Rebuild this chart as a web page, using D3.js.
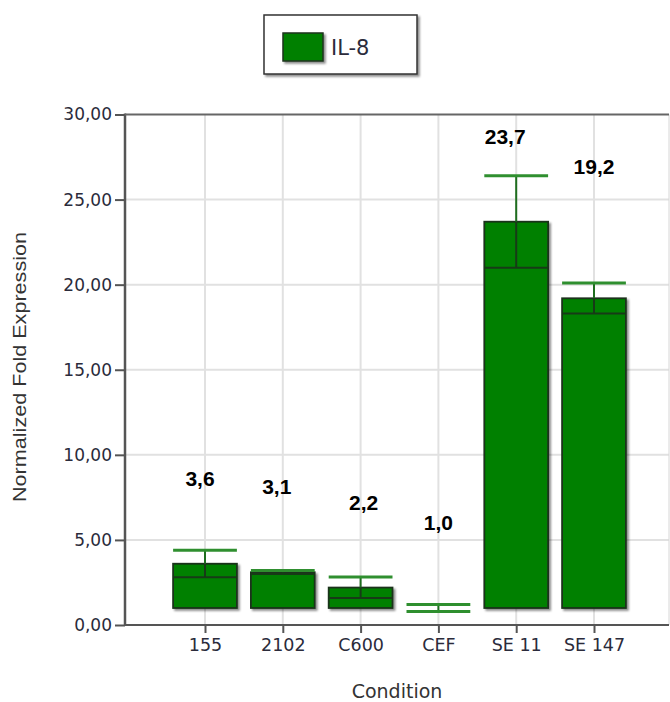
<!DOCTYPE html>
<html>
<head>
<meta charset="utf-8">
<script src="https://cdn.jsdelivr.net/npm/d3@7/dist/d3.min.js"></script>
<style>
  html, body { margin: 0; padding: 0; background: #fff; }
  svg { display: block; }
</style>
</head>
<body>
<svg id="chart" width="670" height="702"></svg>
<script>
// IL-8 normalized fold expression per condition
const categories = ["155", "2102", "C600", "CEF", "SE 11", "SE 147"];
const foldExpression = [3.6, 3.1, 2.2, 1.0, 23.7, 19.2];
const errorRange = [0.8, 0.1, 0.62, 0.2, 2.7, 0.9];
const yTicks = [0, 5, 10, 15, 20, 25, 30];
const seriesName = "IL-8";
const baseline = 1.0; // fold expression is drawn relative to 1

const plot = { left: 125, right: 669, top: 114.5, bottom: 625 };

const locale = d3.formatLocale({ decimal: ",", thousands: ".", grouping: [3], currency: ["", ""] });
const tickFmt = locale.format(".2f");
const valFmt = locale.format(".1f");

const svg = d3.select("#chart");

const defs = svg.append("defs");
const shadow = defs.append("filter").attr("id", "shadow")
  .attr("x", "-10%").attr("y", "-10%").attr("width", "130%").attr("height", "130%");
shadow.append("feDropShadow")
  .attr("dx", 2).attr("dy", 2).attr("stdDeviation", 1)
  .attr("flood-color", "#000").attr("flood-opacity", 0.45);

const x = d3.scalePoint().domain(categories).range([205, 594]);
const y = d3.scaleLinear().domain([0, 30]).range([plot.bottom, plot.top]);
const barW = x.step() * 0.82;

// grid
const grid = svg.append("g");
grid.selectAll("line.h").data(yTicks.slice(1, -1)).join("line")
  .attr("x1", plot.left).attr("x2", plot.right)
  .attr("y1", d => y(d)).attr("y2", d => y(d))
  .attr("stroke", "#e1e1e1").attr("stroke-width", 2);
grid.selectAll("line.v").data(categories).join("line")
  .attr("x1", d => x(d)).attr("x2", d => x(d))
  .attr("y1", plot.top).attr("y2", plot.bottom)
  .attr("stroke", "#e1e1e1").attr("stroke-width", 2);

// right border of the plot area
svg.append("line")
  .attr("x1", plot.right).attr("x2", plot.right)
  .attr("y1", plot.top).attr("y2", plot.bottom)
  .attr("stroke", "#d6d6d6").attr("stroke-width", 1);

// y axis
const yAxis = svg.append("g")
  .attr("transform", `translate(${plot.left},0)`)
  .call(d3.axisLeft(y).tickValues(yTicks).tickFormat(tickFmt).tickSize(10).tickPadding(3));
yAxis.select(".domain").remove();
yAxis.selectAll(".tick line").attr("stroke", "#555").attr("stroke-width", 2);
yAxis.selectAll(".tick text")
  .attr("fill", "#2b2b3b")
  .style("font-family", "'DejaVu Sans', Verdana, sans-serif")
  .style("font-size", "17px");

// x axis
const xAxis = svg.append("g")
  .attr("transform", `translate(0,${plot.bottom})`)
  .call(d3.axisBottom(x).tickSize(8).tickPadding(6));
xAxis.select(".domain").remove();
xAxis.selectAll(".tick line").attr("stroke", "#555").attr("stroke-width", 2);
xAxis.selectAll(".tick text")
  .attr("fill", "#2b2b3b")
  .style("font-family", "'DejaVu Sans', Verdana, sans-serif")
  .style("font-size", "17.5px");

// frame lines
svg.append("line").attr("x1", plot.left).attr("x2", plot.left)
  .attr("y1", plot.top - 1).attr("y2", plot.bottom + 1)
  .attr("stroke", "#555").attr("stroke-width", 2.5);
svg.append("line").attr("x1", plot.left).attr("x2", plot.right)
  .attr("y1", plot.bottom).attr("y2", plot.bottom)
  .attr("stroke", "#555").attr("stroke-width", 2);
svg.append("line").attr("x1", plot.left).attr("x2", plot.right)
  .attr("y1", plot.top).attr("y2", plot.top)
  .attr("stroke", "#666").attr("stroke-width", 2);

const rows = categories.map((c, i) => ({ c, v: foldExpression[i], e: errorRange[i] }));

// bars from the baseline of 1 up to the mean
svg.append("g").selectAll("rect").data(rows.filter(d => d.v !== baseline)).join("rect")
  .attr("x", d => x(d.c) - barW / 2)
  .attr("width", barW)
  .attr("y", d => y(Math.max(d.v, baseline)))
  .attr("height", d => Math.abs(y(baseline) - y(d.v)))
  .attr("fill", "#008000")
  .attr("stroke", "#1c331c")
  .attr("stroke-width", 1.8)
  .attr("filter", "url(#shadow)");

// error bars
const err = svg.append("g");
rows.forEach(d => {
  const cx = x(d.c);
  const hi = d.v + d.e, lo = d.v - d.e;
  const barTop = Math.max(d.v, baseline);
  const inside = v => v < barTop && v > baseline && d.v !== baseline;
  err.append("line").attr("x1", cx).attr("x2", cx)
    .attr("y1", y(hi)).attr("y2", y(Math.min(hi, barTop)))
    .attr("stroke", "#1f6e1f").attr("stroke-width", 2);
  if (d.v !== baseline) {
    err.append("line").attr("x1", cx).attr("x2", cx)
      .attr("y1", y(Math.min(hi, barTop))).attr("y2", y(lo))
      .attr("stroke", "#173a17").attr("stroke-width", 2);
  } else {
    err.append("line").attr("x1", cx).attr("x2", cx)
      .attr("y1", y(d.v)).attr("y2", y(lo))
      .attr("stroke", "#1f6e1f").attr("stroke-width", 2);
  }
  [hi, lo].forEach(v => {
    err.append("line")
      .attr("x1", cx - barW / 2).attr("x2", cx + barW / 2)
      .attr("y1", y(v)).attr("y2", y(v))
      .attr("stroke", inside(v) ? "#173a17" : "#2f8f2f")
      .attr("stroke-width", inside(v) ? 2 : 3);
  });
});

// value annotations above each bar
const labelNudge = { "155": [-5, 0], "2102": [-6, 0], "C600": [3, 0], "CEF": [0, 0], "SE 11": [-11, 0], "SE 147": [0, -46] };
svg.append("g").selectAll("text").data(rows).join("text")
  .attr("x", d => x(d.c) + labelNudge[d.c][0])
  .attr("y", d => y(d.v) - 78 + labelNudge[d.c][1])
  .attr("text-anchor", "middle")
  .style("font-family", "'Liberation Sans', Arial, sans-serif")
  .style("font-weight", "bold")
  .style("font-size", "21px")
  .attr("fill", "#000")
  .text(d => valFmt(d.v));

// axis titles
svg.append("text")
  .attr("transform", `translate(26,367) rotate(-90)`)
  .attr("text-anchor", "middle")
  .style("font-family", "'Liberation Sans', Arial, sans-serif")
  .style("font-size", "19px")
  .attr("textLength", 270).attr("lengthAdjust", "spacingAndGlyphs")
  .attr("fill", "#333")
  .text("Normalized Fold Expression");
svg.append("text")
  .attr("x", 397).attr("y", 698)
  .attr("text-anchor", "middle")
  .style("font-family", "'DejaVu Sans', Verdana, sans-serif")
  .style("font-size", "19px")
  .attr("fill", "#333")
  .text("Condition");

// legend
const lg = svg.append("g");
lg.append("rect").attr("x", 264).attr("y", 15).attr("width", 153).attr("height", 59)
  .attr("fill", "#fff").attr("stroke", "#333").attr("stroke-width", 1.5)
  .attr("filter", "url(#shadow)");
lg.append("rect").attr("x", 283).attr("y", 33).attr("width", 40).attr("height", 28)
  .attr("fill", "#008000").attr("stroke", "#1c331c").attr("stroke-width", 1.5)
  .attr("filter", "url(#shadow)");
lg.append("text").attr("x", 331).attr("y", 55)
  .style("font-family", "'DejaVu Sans', Verdana, sans-serif")
  .style("font-size", "21px")
  .attr("fill", "#2b2b3b")
  .text(seriesName);
</script>
</body>
</html>
